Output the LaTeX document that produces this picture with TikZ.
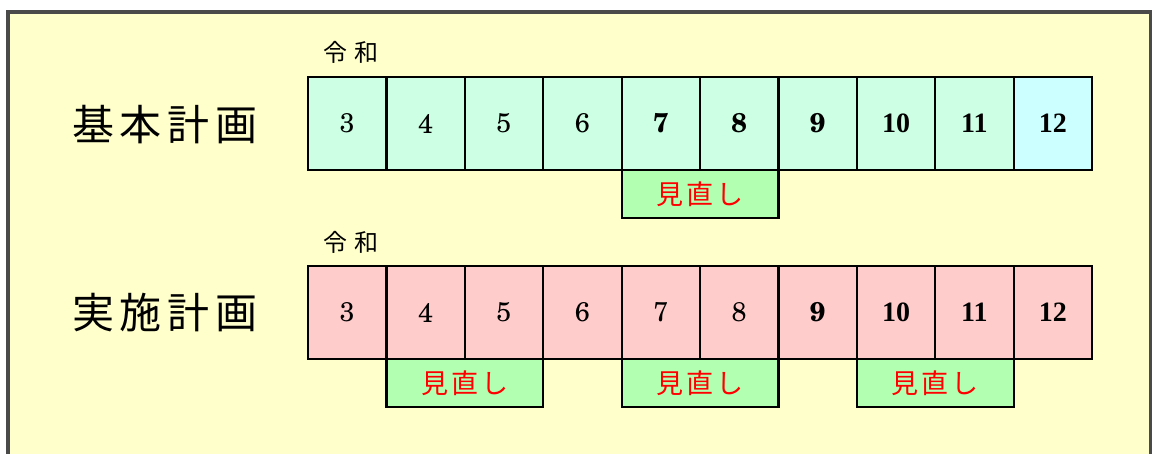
\documentclass[tikz,border=0pt]{standalone}
\usepackage{fontspec}
\newfontfamily\cjk{Noto Sans CJK JP}
\newfontfamily\timesf{Liberation Serif}
\newfontfamily\lmten{texgyreschola-regular.otf}[BoldFont=texgyreschola-bold.otf]
\definecolor{bgy}{HTML}{FFFFCC}
\definecolor{mint}{HTML}{CCFFE4}
\definecolor{cyanc}{HTML}{CCFFFF}
\definecolor{pinkc}{HTML}{FFCCCC}
\definecolor{greenc}{HTML}{B2FFB2}
\definecolor{frame}{HTML}{4A4A4A}
\begin{document}
\begin{tikzpicture}[x=1pt,y=-1pt,
  cell/.style={draw=black,line width=2.2pt,minimum width=78.4pt,minimum height=93pt,inner sep=0pt,font=\lmten\fontsize{27}{30}\selectfont},
  bigt/.style={draw=black,line width=2.2pt,minimum width=78.4pt,minimum height=93pt,inner sep=0pt,font=\timesf\bfseries\fontsize{28}{32}\selectfont},
  review/.style={draw=black,line width=2.2pt,minimum width=156.8pt,minimum height=48pt,inner sep=0pt,fill=greenc,text=red,font=\cjk\fontsize{27}{30}\selectfont},
  title/.style={font=\cjk\fontsize{42}{46}\selectfont,inner sep=0pt},
  era/.style={font=\cjk\fontsize{24}{26}\selectfont,inner sep=0pt}]
\useasboundingbox (0,0) rectangle (1152,453);
\fill[white] (0,0) rectangle (1152,453);
\fill[bgy] (8,12) rectangle (1150,460);
\draw[frame,line width=3.5pt] (7.75,460) -- (7.75,11.75) -- (1150.25,11.75) -- (1150.25,460);
% titles
\node[title] (t1) at (165,125) {基\hspace{6pt}本\hspace{6pt}計\hspace{6pt}画};
\node[title] (t2) at (165,313) {実\hspace{6pt}施\hspace{6pt}計\hspace{6pt}画};
\node[era] (e1) at (351,52) {令\hspace{7pt}和};
\node[era] (e2) at (351,242) {令\hspace{7pt}和};
% top row
\node[cell,fill=mint] (a3) at (347.2,123.5) {3};
\node[cell,fill=mint] (a4) at (425.6,123.5) {4};
\node[cell,fill=mint] (a5) at (504.0,123.5) {5};
\node[cell,fill=mint] (a6) at (582.4,123.5) {6};
\node[cell,fill=mint] (a7) at (660.8,123.5) {\bfseries 7};
\node[cell,fill=mint] (a8) at (739.2,123.5) {\bfseries 8};
\node[cell,fill=mint] (a9) at (817.6,123.5) {\bfseries 9};
\node[bigt,fill=mint] (a10) at (896.0,123.5) {10};
\node[bigt,fill=mint] (a11) at (974.4,123.5) {11};
\node[bigt,fill=cyanc] (a12) at (1052.8,123.5) {12};
% bottom row
\node[cell,fill=pinkc] (b3) at (347.2,312.5) {3};
\node[cell,fill=pinkc] (b4) at (425.6,312.5) {4};
\node[cell,fill=pinkc] (b5) at (504.0,312.5) {5};
\node[cell,fill=pinkc] (b6) at (582.4,312.5) {6};
\node[cell,fill=pinkc] (b7) at (660.8,312.5) {7};
\node[cell,fill=pinkc] (b8) at (739.2,312.5) {8};
\node[cell,fill=pinkc] (b9) at (817.6,312.5) {\bfseries 9};
\node[bigt,fill=pinkc] (b10) at (896.0,312.5) {10};
\node[bigt,fill=pinkc] (b11) at (974.4,312.5) {11};
\node[bigt,fill=pinkc] (b12) at (1052.8,312.5) {12};
% review boxes
\node[review] (r1) at (700.0,194) {見\hspace{3pt}直\hspace{3pt}し\hspace{14pt}};
\node[review] (r2) at (464.8,383) {見\hspace{3pt}直\hspace{3pt}し\hspace{20pt}};
\node[review] (r3) at (700.0,383) {見\hspace{3pt}直\hspace{3pt}し\hspace{20pt}};
\node[review] (r4) at (935.2,383) {見\hspace{3pt}直\hspace{3pt}し\hspace{20pt}};
\end{tikzpicture}
\end{document}
